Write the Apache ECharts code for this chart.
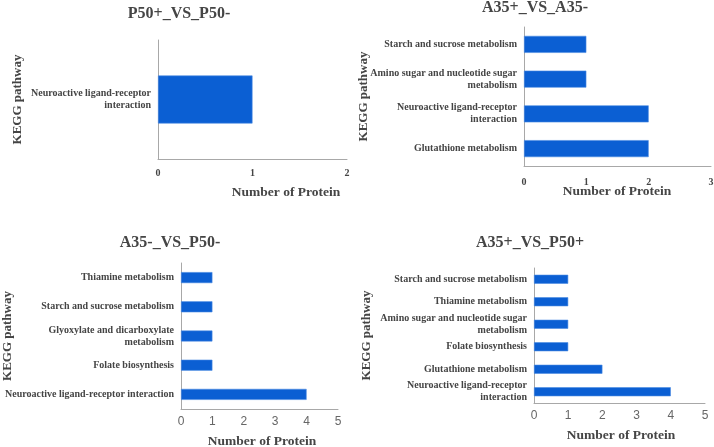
<!DOCTYPE html>
<html><head><meta charset="utf-8">
<script src="https://cdn.jsdelivr.net/npm/echarts@6/dist/echarts.min.js"></script>
<style>html,body{margin:0;padding:0;background:#fff;}#c{width:714px;height:447px;}</style>
</head><body><div id="c"></div>
<script>
// Chart 1: P50+_VS_P50-
const cats1 = ["Neuroactive ligand-receptor\ninteraction"];
const vals1 = [1];
// Chart 2: A35+_VS_A35- (bottom to top)
const cats2 = ["Glutathione metabolism", "Neuroactive ligand-receptor\ninteraction", "Amino sugar and nucleotide sugar\nmetabolism", "Starch and sucrose metabolism"];
const vals2 = [2, 2, 1, 1];
// Chart 3: A35-_VS_P50- (bottom to top)
const cats3 = ["Neuroactive ligand-receptor interaction", "Folate biosynthesis", "Glyoxylate and dicarboxylate\nmetabolism", "Starch and sucrose metabolism", "Thiamine metabolism"];
const vals3 = [4, 1, 1, 1, 1];
// Chart 4: A35+_VS_P50+ (bottom to top)
const cats4 = ["Neuroactive ligand-receptor\ninteraction", "Glutathione metabolism", "Folate biosynthesis", "Amino sugar and nucleotide sugar\nmetabolism", "Thiamine metabolism", "Starch and sucrose metabolism"];
const vals4 = [4, 2, 1, 1, 1, 1];
const titles = ["P50+_VS_P50-", "A35+_VS_A35-", "A35-_VS_P50-", "A35+_VS_P50+"];
const xMax = [2, 3, 5, 5];
const xTitle = "Number of Protein";
const yTitle = "KEGG pathway";

const SERIF = "'Liberation Serif','Times New Roman',serif";
const SANS = "'Liberation Sans',Arial,sans-serif";
const TXT = "#454545";
const BAR = "#0b5fd3";
const AX = "#a8a8a8";

const grids = [
  {left:158, top:40, width:189, height:119},
  {left:524, top:27, width:187, height:139},
  {left:181, top:263, width:157, height:146},
  {left:534, top:268, width:171, height:135}
];
const cats = [cats1, cats2, cats3, cats4];
const vals = [vals1, vals2, vals3, vals4];
const barW = [48, 17, 11, 9];
const tickStyle = [
  {fontFamily:SERIF, fontWeight:'bold', fontSize:10, color:TXT, margin:9},
  {fontFamily:SERIF, fontWeight:'bold', fontSize:10, color:TXT, margin:11},
  {fontFamily:SANS, fontSize:12, color:'#666', margin:7},
  {fontFamily:SANS, fontSize:12, color:'#666', margin:7}
];
const yNameGap = [134, 154, 167, 161];
const titlePos = [[179, 14], [535, 8], [170, 243], [530, 243]];
const xTitlePos = [[286, 193], [617, 192], [262, 442], [621, 436]];

const graphics = [];
titles.forEach((t,i)=>graphics.push({
  type:'text', x:titlePos[i][0], y:titlePos[i][1],
  style:{text:t, fontFamily:SERIF, fontWeight:'bold', fontSize:16, fill:TXT, align:'center', verticalAlign:'middle'}
}));
xTitlePos.forEach(p=>graphics.push({
  type:'text', x:p[0], y:p[1],
  style:{text:xTitle, fontFamily:SERIF, fontWeight:'bold', fontSize:13.5, fill:TXT, align:'center', verticalAlign:'middle'}
}));

const option = {
  animation:false,
  backgroundColor:'#fff',
  grid: grids.map(g=>Object.assign({containLabel:false, outerBoundsMode:'none'}, g)),
  xAxis: grids.map((g,i)=>({
    type:'value', gridIndex:i, min:0, max:xMax[i], interval:1,
    axisLine:{show:true, lineStyle:{color:AX, width:1}},
    axisTick:{show:false}, splitLine:{show:false},
    axisLabel:Object.assign({}, tickStyle[i])
  })),
  yAxis: grids.map((g,i)=>({
    type:'category', gridIndex:i, data:cats[i],
    axisLine:{show:true, lineStyle:{color:AX, width:1}},
    axisTick:{show:false},
    axisLabel:{fontFamily:SERIF, fontWeight:'bold', fontSize:10, color:TXT, margin:7, lineHeight:12, align:'right'},
    name:yTitle, nameLocation:'middle', nameGap:yNameGap[i], nameRotate:90, nameMoveOverlap:false,
    nameTextStyle:{fontFamily:SERIF, fontWeight:'bold', fontSize:13, color:TXT}
  })),
  series: vals.map((v,i)=>({
    type:'bar', xAxisIndex:i, yAxisIndex:i, data:v, barWidth:barW[i],
    itemStyle:{color:BAR, borderColor:'#4c8ce3', borderWidth:0.6}
  })),
  graphic: graphics
};
const chart = echarts.init(document.getElementById('c'), null, {renderer:'canvas'});
chart.setOption(option);
</script></body></html>
